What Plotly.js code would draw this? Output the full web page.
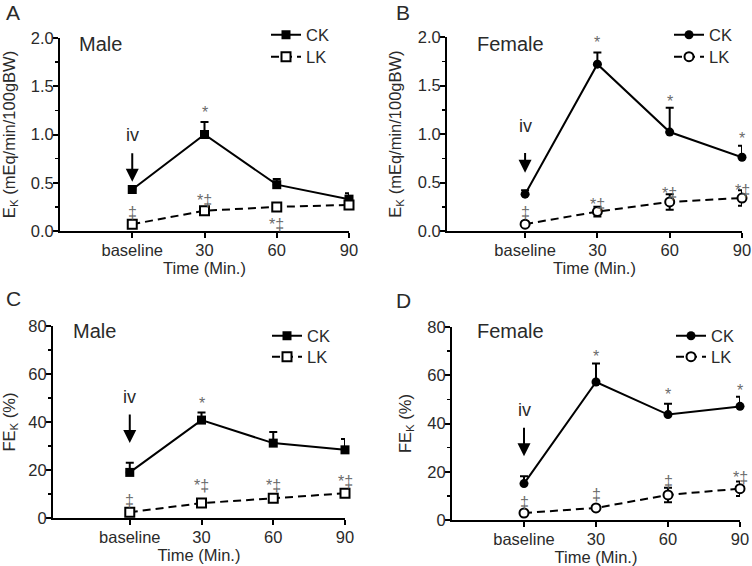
<!DOCTYPE html>
<html>
<head>
<meta charset="utf-8">
<script src="https://cdn.plot.ly/plotly-3.0.1.min.js"></script>
<style>
  html, body { margin: 0; padding: 0; background: #fff; }
  #chart { width: 752px; height: 566px; }
</style>
</head>
<body>
<div id="chart"></div>
<script>
// x categories
const timeIdx = [0, 1, 2, 3];
const timeLabels = ['baseline', '30', '60', '90'];

// A: E_K male
const ekMaleCK = [0.43, 1.00, 0.48, 0.33];
const ekMaleCKErr = [0.02, 0.13, 0.06, 0.06];
const ekMaleLK = [0.07, 0.21, 0.25, 0.27];
const ekMaleLKErr = [0.02, 0.03, 0.02, 0.02];

// B: E_K female
const ekFemaleCK = [0.38, 1.72, 1.02, 0.76];
const ekFemaleCKErr = [0.04, 0.12, 0.25, 0.12];
const ekFemaleLK = [0.07, 0.20, 0.30, 0.34];
const ekFemaleLKErr = [0.02, 0.05, 0.08, 0.08];

// C: FE_K male
const feMaleCK = [19.0, 40.8, 31.2, 28.4];
const feMaleCKErr = [4.0, 3.2, 4.6, 4.5];
const feMaleLK = [2.4, 6.2, 8.2, 10.3];
const feMaleLKErr = [0.8, 0.8, 0.8, 1.0];

// D: FE_K female
const feFemaleCK = [15.1, 57.2, 43.7, 47.1];
const feFemaleCKErr = [3.0, 7.7, 4.5, 4.0];
const feFemaleLK = [2.9, 5.0, 10.4, 13.0];
const feFemaleLKErr = [0.8, 1.0, 3.0, 3.0];

// significance marks (text, x index, y value)
const marksAText = ['*', '‡', '*‡', '*‡'];
const marksAX = [1, 0, 1, 2];
const marksAY = [1.26, 0.22, 0.35, 0.10];
const marksBText = ['*', '*', '*', '‡', '*‡', '*‡', '*‡'];
const marksBX = [1, 2, 3, 0, 1, 2, 3];
const marksBY = [1.97, 1.37, 0.98, 0.22, 0.30, 0.42, 0.45];
const marksCText = ['*', '‡', '*‡', '*‡', '*‡'];
const marksCX = [1, 0, 1, 2, 3];
const marksCY = [49, 8.6, 14.6, 14.6, 16.6];
const marksDText = ['*', '*', '*', '‡', '‡', '‡', '*‡'];
const marksDX = [1, 2, 3, 0, 1, 2, 3];
const marksDY = [69, 53.4, 55, 8.4, 11.9, 17.4, 18.8];

// "iv" injection arrow: [label y, arrow tail y, arrow head y]
const ivA = [0.99, 0.82, 0.51];
const ivB = [1.08, 0.82, 0.60];
const ivC = [50.6, 43.7, 31.2];
const ivD = [45.4, 38.9, 26.4];

const FONT = 'Arial, "Liberation Sans", sans-serif';
const TXT = '#2a2a2a';

function ckTrace(xa, ya, y, err, symbol, legend) {
  return {
    x: timeIdx, y, xaxis: xa, yaxis: ya, name: 'CK', legend,
    type: 'scatter', mode: 'lines+markers', cliponaxis: false,
    line: { color: '#000', width: 2 },
    marker: { symbol, size: 9, color: '#000' },
    error_y: { type: 'data', symmetric: false, array: err, arrayminus: err.map(() => 0),
      color: '#000', thickness: 2, width: 4 },
  };
}

function lkTrace(xa, ya, y, err, symbol, legend) {
  return {
    x: timeIdx, y, xaxis: xa, yaxis: ya, name: 'LK', legend,
    type: 'scatter', mode: 'lines+markers', cliponaxis: false,
    line: { color: '#000', width: 2, dash: '8px,5px' },
    marker: { symbol, size: 9, color: '#fff', line: { color: '#000', width: 2 } },
    error_y: { type: 'data', array: err, color: '#000', thickness: 2, width: 4 },
  };
}

// one legend per entry so each row sits where the reference has it
const traces = [
  ckTrace('x', 'y', ekMaleCK, ekMaleCKErr, 'square', 'legend'),
  lkTrace('x', 'y', ekMaleLK, ekMaleLKErr, 'square', 'legend5'),
  ckTrace('x2', 'y2', ekFemaleCK, ekFemaleCKErr, 'circle', 'legend2'),
  lkTrace('x2', 'y2', ekFemaleLK, ekFemaleLKErr, 'circle', 'legend6'),
  ckTrace('x3', 'y3', feMaleCK, feMaleCKErr, 'square', 'legend3'),
  lkTrace('x3', 'y3', feMaleLK, feMaleLKErr, 'square', 'legend7'),
  ckTrace('x4', 'y4', feFemaleCK, feFemaleCKErr, 'circle', 'legend4'),
  lkTrace('x4', 'y4', feFemaleLK, feFemaleLKErr, 'circle', 'legend8'),
];

function xAxis(domain, anchor, range) {
  return {
    domain, anchor, range,
    tickvals: timeIdx, ticktext: timeLabels,
    showline: true, linewidth: 2, linecolor: '#000',
    ticks: 'outside', ticklen: 5, tickwidth: 2, tickcolor: '#000',
    ticklabelstandoff: -2,
    showgrid: false, zeroline: false,
    tickfont: { size: 16.5, color: TXT },
    title: { text: 'Time (Min.)', font: { size: 16.5, color: TXT }, standoff: 4 },
  };
}

function yAxis(domain, anchor, range, dtick, fmt, title, tsize) {
  return {
    domain, anchor, range, dtick, tickformat: fmt,
    showline: true, linewidth: 2, linecolor: '#000',
    ticks: 'outside', ticklen: 5, tickwidth: 2, tickcolor: '#000',
    ticklabelstandoff: -4,
    minor: { ticks: 'outside', ticklen: 3, tickwidth: 1.5, dtick: dtick / 2, tickcolor: '#000' },
    showgrid: false, zeroline: false,
    tickfont: { size: 16.5, color: TXT },
    title: { text: title, font: { size: tsize, color: TXT }, standoff: 12 },
  };
}

function legendAt(x, yPx) {
  return {
    x, y: 1 - yPx / 566, xanchor: 'left', yanchor: 'middle', bgcolor: 'rgba(0,0,0,0)',
    font: { size: 16.5, color: TXT, family: FONT }, itemwidth: 30,
  };
}

const annotations = [];

function addMarks(xa, ya, texts, xs, ys) {
  texts.forEach((t, i) => {
    annotations.push({
      xref: xa, yref: ya, x: xs[i], y: ys[i], text: t, showarrow: false,
      font: { size: 16, color: '#6a6a6a' }, yanchor: 'middle', yshift: -3,
    });
  });
}

function addIv(xa, ya, iv) {
  annotations.push({
    xref: xa, yref: ya, x: 0, y: iv[0], text: 'iv', showarrow: false,
    font: { size: 18, color: TXT },
  });
  annotations.push({
    xref: xa, yref: ya, x: 0, y: iv[2], axref: xa, ayref: ya, ax: 0, ay: iv[1],
    text: '', showarrow: true, arrowhead: 2, arrowsize: 1.3, arrowwidth: 2,
    arrowcolor: '#000', standoff: 0,
  });
}

function addSex(xa, ya, text, x, y) {
  annotations.push({
    xref: xa + ' domain', yref: ya + ' domain', x, y, text, showarrow: false,
    xanchor: 'left', yanchor: 'middle', font: { size: 20, color: TXT },
  });
}

function addPanel(text, x, y) {
  annotations.push({
    xref: 'paper', yref: 'paper', x, y, text, showarrow: false,
    xanchor: 'center', yanchor: 'middle', font: { size: 21, color: TXT },
  });
}

addMarks('x', 'y', marksAText, marksAX, marksAY);
addMarks('x2', 'y2', marksBText, marksBX, marksBY);
addMarks('x3', 'y3', marksCText, marksCX, marksCY);
addMarks('x4', 'y4', marksDText, marksDX, marksDY);
addIv('x', 'y', ivA);
addIv('x2', 'y2', ivB);
addIv('x3', 'y3', ivC);
addIv('x4', 'y4', ivD);
addSex('x', 'y', 'Male', 0.06, 0.97);
addSex('x2', 'y2', 'Female', 0.095, 0.965);
addSex('x3', 'y3', 'Male', 0.06, 0.974);
addSex('x4', 'y4', 'Female', 0.08, 0.98);
addPanel('A', 13 / 752, 1 - 12 / 566);
addPanel('B', 403 / 752, 1 - 12 / 566);
addPanel('C', 13 / 752, 1 - 298 / 566);
addPanel('D', 403 / 752, 1 - 300 / 566);

const ekTitle = 'E<sub>K</sub> (mEq/min/100gBW)';
const feTitle = 'FE<sub>K</sub> (%)';

const layout = {
  width: 752, height: 566,
  margin: { t: 0, r: 0, b: 0, l: 0 },
  paper_bgcolor: '#fff', plot_bgcolor: '#fff',
  font: { family: FONT, color: TXT },
  showlegend: true,
  xaxis: xAxis([60 / 752, 349 / 752], 'y', [-1, 3]),
  yaxis: yAxis([1 - 231 / 566, 1 - 38 / 566], 'x', [0, 2], 0.5, '.1f', ekTitle, 16.5),
  xaxis2: xAxis([447 / 752, 742 / 752], 'y2', [-1.08, 3]),
  yaxis2: yAxis([1 - 231 / 566, 1 - 37 / 566], 'x2', [0, 2], 0.5, '.1f', ekTitle, 16.5),
  xaxis3: xAxis([53 / 752, 345 / 752], 'y3', [-1.07, 3]),
  yaxis3: yAxis([1 - 518 / 566, 1 - 326 / 566], 'x3', [0, 80], 20, '', feTitle, 16.5),
  xaxis4: xAxis([452 / 752, 740 / 752], 'y4', [-1, 3]),
  yaxis4: yAxis([1 - 520 / 566, 1 - 327 / 566], 'x4', [0, 80], 20, '', feTitle, 16.5),
  legend: legendAt(266 / 752, 35),
  legend5: legendAt(266 / 752, 57),
  legend2: legendAt(669 / 752, 35),
  legend6: legendAt(669 / 752, 57),
  legend3: legendAt(267 / 752, 336),
  legend7: legendAt(267 / 752, 357),
  legend4: legendAt(671 / 752, 336),
  legend8: legendAt(671 / 752, 357),
  annotations,
};

Plotly.newPlot('chart', traces, layout, { displayModeBar: false, staticPlot: true });
</script>
</body>
</html>
